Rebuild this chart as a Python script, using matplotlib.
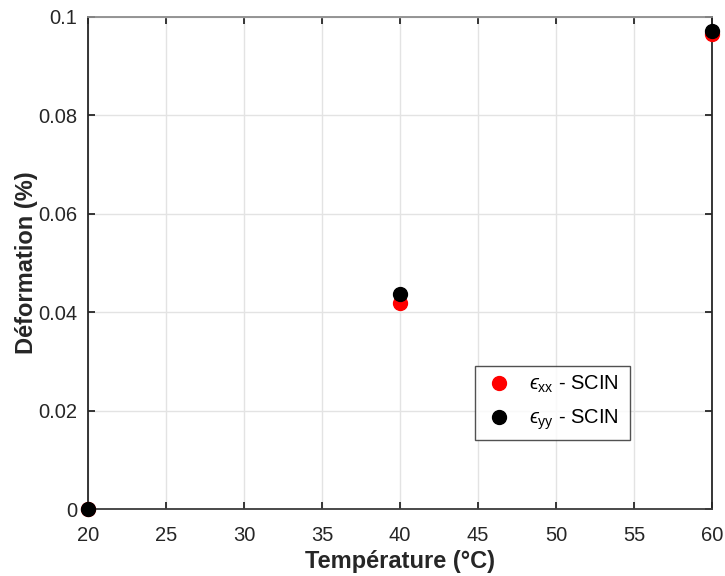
import matplotlib
matplotlib.use("Agg")
import matplotlib.pyplot as plt

plt.rcParams['font.family'] = ['Liberation Sans', 'DejaVu Sans']
plt.rcParams['mathtext.fontset'] = 'custom'
plt.rcParams['mathtext.rm'] = 'Liberation Sans'
plt.rcParams['mathtext.it'] = 'Liberation Sans:italic'
plt.rcParams['mathtext.fallback'] = 'stixsans'

temperature = [20, 40, 60]
eps_xx = [0.0, 0.0418, 0.0965]
eps_yy = [0.0, 0.0437, 0.0971]
labels = ['$\u03f5_{\\mathrm{xx}}$ - SCIN', '$\u03f5_{\\mathrm{yy}}$ - SCIN']
xticks = [20, 25, 30, 35, 40, 45, 50, 55, 60]
yticks = [0, 0.02, 0.04, 0.06, 0.08, 0.1]
yticklabels = ['0', '0.02', '0.04', '0.06', '0.08', '0.1']

fig = plt.figure(figsize=(7.25, 5.76), dpi=100)
ax = fig.add_axes([0.1214, 0.1163, 0.8607, 0.8542])

ax.plot(temperature, eps_xx, 'o', color='#ff0000', markersize=10, label=labels[0], clip_on=False, zorder=3)
ax.plot(temperature, eps_yy, 'o', color='#000000', markersize=10, label=labels[1], clip_on=False, zorder=4)

ax.set_xlim(20, 60)
ax.set_ylim(0, 0.1)
ax.set_xticks(xticks)
ax.set_yticks(yticks)
ax.set_yticklabels(yticklabels)
ax.grid(True, color='#e3e3e3', linewidth=1)
ax.set_axisbelow(True)
ax.tick_params(direction='in', length=5, width=1.3, colors='#262626', labelsize=14.5,
               top=True, right=True)
ax.tick_params(axis='x', pad=12)
ax.tick_params(axis='y', pad=8)
ax.spines['left'].set_color('#262626')
ax.spines['right'].set_color('#262626')
ax.spines['bottom'].set_color('#3c3c3c')
ax.spines['top'].set_color('#8c8c8c')
for s in ax.spines.values():
    s.set_linewidth(1.3)

ax.set_xlabel('Température (°C)', fontsize=17, fontweight='bold', color='#262626', labelpad=4)
ax.set_ylabel('Déformation (%)', fontsize=17, fontweight='bold', color='#262626', labelpad=0)

leg = ax.legend(loc='lower left', bbox_to_anchor=(0.620, 0.140, 0.249, 0.157), mode='expand',
                fontsize=14.5, frameon=True, fancybox=False, edgecolor='#262626',
                handletextpad=0.7, handlelength=1.6, borderaxespad=0, labelspacing=0.6, borderpad=0.4)
leg.get_frame().set_linewidth(1)

fig.savefig('out.png', dpi=100)
